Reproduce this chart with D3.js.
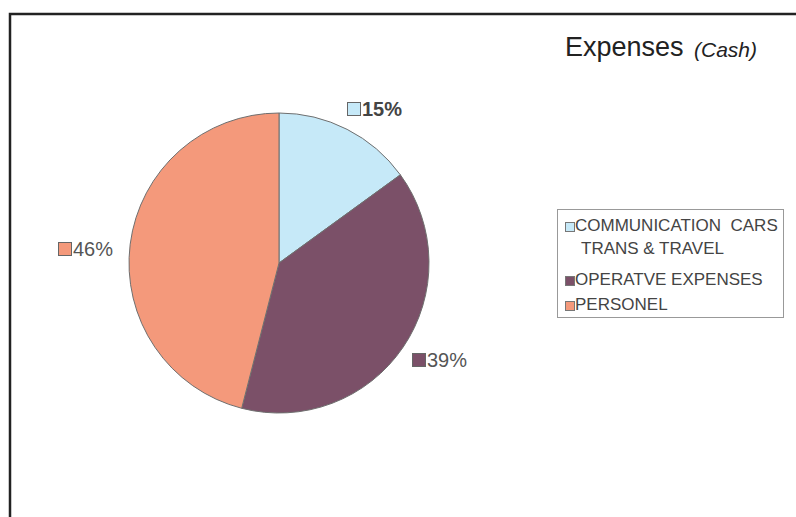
<!DOCTYPE html>
<html>
<head>
<meta charset="utf-8">
<script src="https://cdn.jsdelivr.net/npm/d3@7"></script>
<style>
  body { margin: 0; background: #fff; }
  svg { display: block; font-family: "Liberation Sans", Arial, sans-serif; }
</style>
</head>
<body>
<div id="chart"></div>
<script>
const categories = ['COMMUNICATION CARS TRANS & TRAVEL', 'OPERATVE EXPENSES', 'PERSONEL'];
const legendLines = [['COMMUNICATION  CARS', 'TRANS & TRAVEL'], ['OPERATVE EXPENSES'], ['PERSONEL']];
const values = [15, 39, 46];
const colors = ['#c6e9f8', '#7b5068', '#f4997b'];
// where each percentage label sits (label anchor, not data)
const labelPos = [[347, 102], [412, 353], [58, 242]];

var width = 796, height = 517;
var cx = 279, cy = 263, radius = 150;

var svg = d3.select('#chart')
  .append('svg')
  .attr('width', width)
  .attr('height', height);

// frame: top and left edges only
svg.append('path')
  .attr('d', 'M10,' + height + ' V14 H' + width)
  .attr('fill', 'none')
  .attr('stroke', '#222')
  .attr('stroke-width', 2.5);

var pie = d3.pie().sort(null).value(d => d);
var arc = d3.arc().innerRadius(0).outerRadius(radius);

var g = svg.append('g').attr('transform', 'translate(' + cx + ',' + cy + ')');
g.selectAll('path')
  .data(pie(values))
  .enter()
  .append('path')
  .attr('d', arc)
  .attr('fill', (d, i) => colors[i])
  .attr('stroke', '#6f6f6f')
  .attr('stroke-width', 1);

// percent labels
var lab = svg.selectAll('.lab')
  .data(values)
  .enter()
  .append('g')
  .attr('class', 'lab')
  .attr('transform', (d, i) => 'translate(' + labelPos[i][0] + ',' + labelPos[i][1] + ')');
lab.append('rect')
  .attr('x', 0.5).attr('y', 0.5)
  .attr('width', 13).attr('height', 13)
  .attr('fill', (d, i) => colors[i])
  .attr('stroke', '#666').attr('stroke-width', 1);
lab.append('text')
  .attr('x', 15).attr('y', 14)
  .attr('font-size', 20)
  .attr('font-weight', (d, i) => i === 0 ? 'bold' : 'normal')
  .attr('fill', (d, i) => i === 0 ? '#444' : '#555')
  .text(d => d + '%');

// title
svg.append('text')
  .attr('x', 565).attr('y', 56)
  .attr('font-size', 27)
  .attr('fill', '#222')
  .text('Expenses');
svg.append('text')
  .attr('x', 694).attr('y', 57)
  .attr('font-size', 21)
  .attr('font-style', 'italic')
  .attr('fill', '#222')
  .text('(Cash)');

// legend
svg.append('rect')
  .attr('x', 557.5).attr('y', 209.5)
  .attr('width', 226).attr('height', 108)
  .attr('fill', '#fff')
  .attr('stroke', '#999').attr('stroke-width', 1);

const legendY = [222, 276, 301];
var leg = svg.selectAll('.leg')
  .data(categories)
  .enter()
  .append('g')
  .attr('class', 'leg')
  .attr('transform', (d, i) => 'translate(565,' + legendY[i] + ')');
leg.append('rect')
  .attr('x', 0.5).attr('y', 0.5)
  .attr('width', 9).attr('height', 9)
  .attr('fill', (d, i) => colors[i])
  .attr('stroke', '#777').attr('stroke-width', 1);
leg.each(function(d, i) {
  legendLines[i].forEach((t, k) => {
    d3.select(this).append('text')
      .attr('x', k === 0 ? 10 : 16)
      .attr('y', 9 + k * 23)
      .attr('font-size', 17)
      .attr('fill', '#444')
      .attr('xml:space', 'preserve')
      .text(t);
  });
});
</script>
</body>
</html>
